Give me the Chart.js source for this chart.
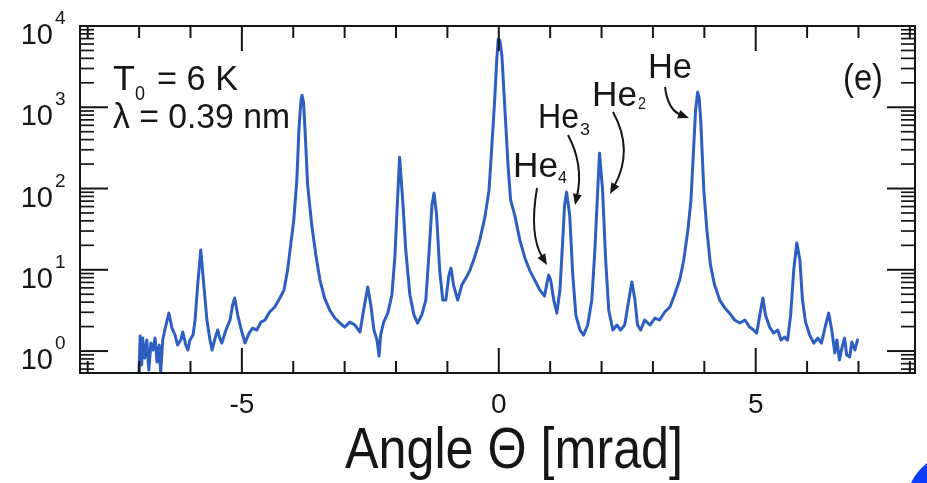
<!DOCTYPE html>
<html>
<head>
<meta charset="utf-8">
<script src="https://cdn.jsdelivr.net/npm/chart.js@4.4.1/dist/chart.umd.min.js"></script>
<style>
  html, body { margin: 0; padding: 0; background: #ffffff; }
  #wrap { width: 927px; height: 483px; }
</style>
</head>
<body>
<div id="wrap"><canvas id="c" width="927" height="483"></canvas></div>
<script>
// ---- data ----
const angle = [
  -7.00,-6.98,-6.95,-6.93,-6.89,-6.85,-6.81,-6.77,-6.73,-6.69,-6.65,-6.61,-6.58,-6.54,-6.50,-6.42,-6.36,-6.30,-6.25,-6.19,
  -6.15,-6.09,-6.05,-6.01,-5.95,-5.91,-5.86,-5.80,-5.74,-5.68,-5.62,-5.58,-5.53,-5.47,-5.43,-5.39,-5.31,-5.23,-5.18,-5.14,
  -5.08,-5.02,-4.94,-4.86,-4.79,-4.71,-4.63,-4.55,-4.46,-4.36,-4.26,-4.18,-4.11,-4.05,-3.99,-3.93,-3.89,-3.85,-3.83,-3.80,-3.77,-3.72,
  -3.64,-3.56,-3.48,-3.39,-3.29,-3.19,-3.09,-3.00,-2.90,-2.80,-2.70,-2.63,-2.55,-2.49,-2.43,-2.37,-2.33,-2.30,-2.24,-2.16,
  -2.08,-2.02,-1.98,-1.93,-1.87,-1.81,-1.73,-1.65,-1.58,-1.50,-1.42,-1.36,-1.30,-1.26,-1.21,-1.15,-1.09,-1.03,-0.97,-0.93,
  -0.88,-0.80,-0.72,-0.64,-0.56,-0.47,-0.37,-0.27,-0.19,-0.14,-0.08,-0.04,-0.01,0.02,0.06,0.12,0.18,0.23,0.31,0.41,0.51,
  0.60,0.70,0.80,0.89,0.93,0.97,1.01,1.07,1.13,1.19,1.25,1.28,1.32,1.38,1.44,1.50,1.58,1.65,1.73,1.81,
  1.87,1.93,1.96,2.02,2.08,2.14,2.22,2.30,2.37,2.45,2.53,2.59,2.65,2.70,2.76,2.84,2.94,3.04,3.13,3.23,
  3.33,3.42,3.52,3.60,3.68,3.74,3.79,3.83,3.87,3.90,3.93,3.99,4.05,4.12,4.20,4.30,4.40,4.49,4.59,4.69,4.79,
  4.88,4.96,5.02,5.08,5.14,5.19,5.27,5.35,5.43,5.49,5.56,5.62,5.68,5.74,5.80,5.86,5.91,5.97,6.05,6.13,
  6.21,6.28,6.36,6.42,6.48,6.54,6.58,6.63,6.69,6.73,6.77,6.83,6.87,6.93,6.98
];
const intensity = [
  0.552,1.53,0.673,1.445,0.820,1.366,0.584,1.254,1.03,1.445,0.732,1.185,0.552,1.366,1.813,2.93,1.918,1.573,1.185,1.366,
  1.713,1.185,1.03,1.366,1.573,2.41,6.48,17.5,6.48,2.41,1.366,1.03,1.366,1.813,1.445,1.254,1.813,2.41,3.68,4.49,
  2.77,1.918,1.254,1.665,1.918,1.813,2.27,2.41,3.02,3.48,4.49,5.63,9.92,20.1,40.9,127,523,1200,1409,1150,523,110,
  35.5,15.2,7.47,4.49,3.19,2.55,2.21,1.973,2.27,2.09,1.713,3.19,6.13,3.68,1.813,1.366,0.868,1.573,2.27,2.93,
  4.89,15.2,54.2,243,72.0,17.5,4.89,2.77,2.21,2.77,4.24,15.2,62.5,87.8,47.1,9.92,4.24,4.24,8.61,10.5,
  6.48,4.24,6.48,7.91,9.92,14.3,23.2,44.5,95.5,297,1223,3795,6900,6700,4375,921,194,72.0,47.1,23.2,13.9,
  9.92,7.47,5.63,4.75,6.48,8.61,7.47,4.24,2.93,5.63,26.7,62.5,90.3,47.1,8.61,2.77,1.813,1.573,2.09,4.24,
  17.5,110,272,95.5,13.2,3.19,1.813,2.09,1.813,2.09,4.24,7.06,4.24,2.09,1.813,2.41,2.09,2.55,2.41,3.02,
  3.48,4.89,7.47,13.2,30.8,72.0,297,921,1534,1300,694,95.5,30.8,11.4,6.48,4.24,3.38,2.93,2.41,2.21,2.41,
  1.973,1.813,1.665,2.77,4.49,2.77,1.973,1.665,1.813,1.366,1.486,1.366,2.77,9.92,21.3,13.2,4.24,2.27,1.573,1.254,
  1.445,1.254,2.09,2.93,1.813,0.945,1.366,0.775,1.185,1.445,0.893,0.844,1.29,1.03,1.366
];
const xMajorTicks = [-5, 0, 5];
const xMinorTicks = [-8, -7, -6, -5, -4, -3, -2, -1, 0, 1, 2, 3, 4, 5, 6, 7, 8];
const xTickLabels = ['-5', '0', '5'];
const yDecades = [1, 10, 100, 1000, 10000];
const yExponents = ['0', '1', '2', '3', '4'];
const xTitle = 'Angle \u0398 [mrad]';
const peakLabels = ['He', 'He', 'He', 'He'];
const peakSubs = ['', '2', '3', '4'];
const infoLines = ['= 6 K', '\u03bb = 0.39 nm'];
const panelTag = '(e)';

// ---- drawing ----
const FONT = '"Liberation Sans", Arial, Helvetica, sans-serif';
const INK = '#161616';

function drawText(ctx, str, x, baseline, size, width, align) {
  ctx.font = size + 'px ' + FONT;
  const w = ctx.measureText(str).width;
  const s = width ? width / w : 1;
  const realW = w * s;
  let left = x;
  if (align === 'center') left = x - realW / 2;
  if (align === 'right') left = x - realW;
  ctx.save();
  ctx.translate(left, baseline);
  ctx.scale(s, 1);
  ctx.textAlign = 'left';
  ctx.textBaseline = 'alphabetic';
  ctx.fillText(str, 0, 0);
  ctx.restore();
}

function line(ctx, x1, y1, x2, y2) {
  ctx.beginPath(); ctx.moveTo(x1, y1); ctx.lineTo(x2, y2); ctx.stroke();
}

function curvedArrow(ctx, sx, sy, cx, cy, ex, ey) {
  const ang = Math.atan2(ey - cy, ex - cx);
  const L = 11, W = 4.5;
  const bx = ex - L * Math.cos(ang), by = ey - L * Math.sin(ang);
  ctx.beginPath();
  ctx.moveTo(sx, sy);
  ctx.quadraticCurveTo(cx, cy, bx + 2 * Math.cos(ang), by + 2 * Math.sin(ang));
  ctx.stroke();
  ctx.beginPath();
  ctx.moveTo(ex, ey);
  ctx.lineTo(bx + W * Math.sin(ang), by - W * Math.cos(ang));
  ctx.lineTo(bx - W * Math.sin(ang), by + W * Math.cos(ang));
  ctx.closePath();
  ctx.fill();
}

const decor = {
  id: 'decor',
  beforeDraw(chart) {
    const ctx = chart.ctx;
    ctx.save();
    ctx.fillStyle = '#ffffff';
    ctx.fillRect(0, 0, chart.width, chart.height);
    ctx.restore();
  },
  afterDraw(chart) {
    const ctx = chart.ctx;
    const a = chart.chartArea;
    const xs = chart.scales.x, ys = chart.scales.y;
    ctx.save();
    ctx.strokeStyle = INK;
    ctx.fillStyle = INK;
    ctx.lineWidth = 2;
    ctx.lineCap = 'butt';
    ctx.strokeRect(a.left, a.top, a.right - a.left, a.bottom - a.top);

    // x ticks (inward, top and bottom)
    xMinorTicks.forEach(v => {
      const px = xs.getPixelForValue(v);
      if (px < a.left + 1 || px > a.right - 1) return;
      const len = xMajorTicks.includes(v) ? 25 : 12;
      line(ctx, px, a.bottom, px, a.bottom - len);
      line(ctx, px, a.top, px, a.top + len);
    });
    // y ticks (inward, left and right)
    const yMin = ys.min, yMax = ys.max;
    [0.1].concat(yDecades).forEach(d => {
      for (let m = 1; m <= 9; m++) {
        const v = d * m;
        if (v < yMin || v > yMax * 1.0001) continue;
        const py = ys.getPixelForValue(v);
        const len = m === 1 ? 28 : 14;
        ctx.lineWidth = m === 1 ? 2 : 1.7;
        line(ctx, a.left, py, a.left + len, py);
        line(ctx, a.right, py, a.right - len, py);
      }
    });
    ctx.lineWidth = 2;

    // y tick labels
    yDecades.forEach((d, i) => {
      const py = ys.getPixelForValue(d);
      drawText(ctx, '10', 53, py + 18, 29, 0, 'right');
      drawText(ctx, yExponents[i], 55, py - 2, 19, 0, 'left');
    });
    // x tick labels
    xMajorTicks.forEach((v, i) => {
      const px = xs.getPixelForValue(v);
      drawText(ctx, xTickLabels[i], px, 413, 28, 0, 'center');
    });
    // x title
    drawText(ctx, xTitle, 345, 468, 58, 338, 'left');

    // info text
    drawText(ctx, 'T', 113, 90, 35, 22, 'left');
    drawText(ctx, '0', 135, 100, 21, 10, 'left');
    drawText(ctx, infoLines[0], 157, 90, 35, 81, 'left');
    drawText(ctx, infoLines[1], 113, 128, 35, 177, 'left');
    drawText(ctx, panelTag, 843, 90, 36, 40, 'left');

    // peak labels
    drawText(ctx, peakLabels[0], 648, 78, 35, 44, 'left');
    drawText(ctx, peakLabels[1], 592, 106, 35, 45, 'left');
    drawText(ctx, peakSubs[1], 638, 109, 16, 8, 'left');
    drawText(ctx, peakLabels[2], 538, 128, 35, 41, 'left');
    drawText(ctx, peakSubs[2], 580, 135, 17, 10, 'left');
    drawText(ctx, peakLabels[3], 513, 177, 35, 45, 'left');
    drawText(ctx, peakSubs[3], 558, 183, 16, 9, 'left');

    // arrows
    ctx.lineWidth = 2;
    curvedArrow(ctx, 665, 87, 668, 110, 689, 118);
    curvedArrow(ctx, 613, 112, 634, 150, 610, 194);
    curvedArrow(ctx, 568, 135, 584, 165, 575, 205);
    curvedArrow(ctx, 537, 188, 529, 235, 547, 265);

    // blue corner mark
    ctx.fillStyle = '#0b3dff';
    ctx.beginPath();
    ctx.moveTo(911, 483);
    ctx.quadraticCurveTo(916, 472, 927, 463);
    ctx.lineTo(927, 483);
    ctx.closePath();
    ctx.fill();
    ctx.restore();
  }
};

const points = angle.map((x, i) => ({ x: x, y: intensity[i] }));

new Chart(document.getElementById('c'), {
  type: 'line',
  data: {
    datasets: [{
      data: points,
      borderColor: '#2d5ec2',
      borderWidth: 3,
      pointRadius: 0,
      tension: 0,
      fill: false,
      borderJoinStyle: 'round',
      borderCapStyle: 'round'
    }]
  },
  options: {
    responsive: false,
    devicePixelRatio: 1,
    animation: false,
    layout: { padding: { left: 80, right: 12, top: 26, bottom: 110 } },
    plugins: { legend: { display: false }, tooltip: { enabled: false } },
    scales: {
      x: { type: 'linear', min: -8.15, max: 8.1, display: false },
      y: { type: 'logarithmic', min: 0.537, max: 10000, display: false }
    }
  },
  plugins: [decor]
});
</script>
</body>
</html>
